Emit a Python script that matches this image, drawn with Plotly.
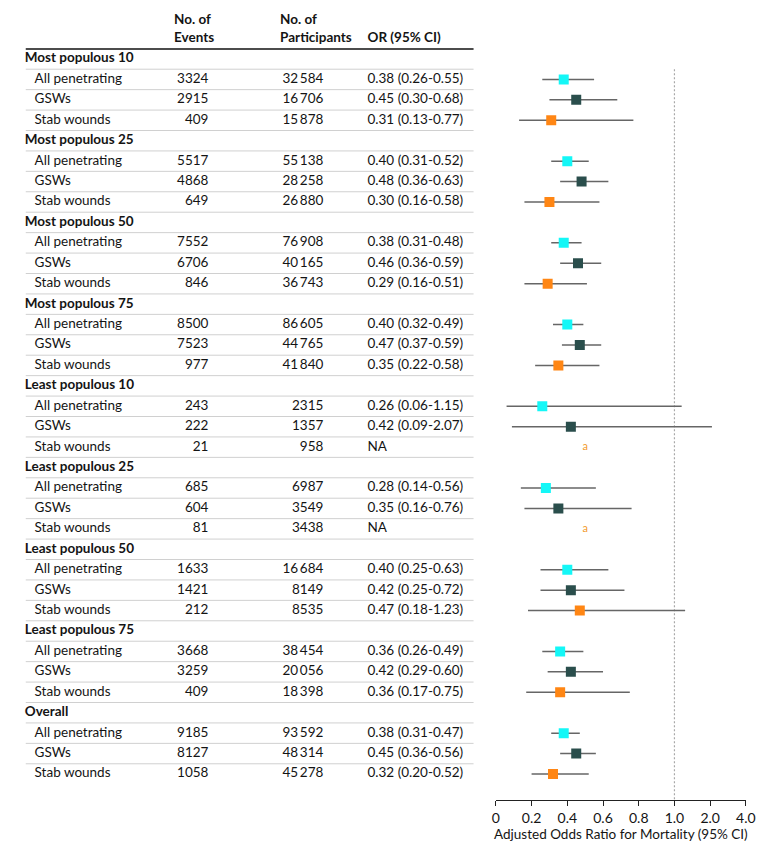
import math
import plotly.graph_objects as go

# ---------------- data ----------------
groups = ["Most populous 10", "Most populous 25", "Most populous 50", "Most populous 75",
          "Least populous 10", "Least populous 25", "Least populous 50", "Least populous 75",
          "Overall"]
subgroups = ["All penetrating", "GSWs", "Stab wounds"]

events = [[3324, 2915, 409], [5517, 4868, 649], [7552, 6706, 846], [8500, 7523, 977],
          [243, 222, 21], [685, 604, 81], [1633, 1421, 212], [3668, 3259, 409],
          [9185, 8127, 1058]]
participants = [[32584, 16706, 15878], [55138, 28258, 26880], [76908, 40165, 36743],
                [86605, 44765, 41840], [2315, 1357, 958], [6987, 3549, 3438],
                [16684, 8149, 8535], [38454, 20056, 18398], [93592, 48314, 45278]]
or_vals = [[0.38, 0.45, 0.31], [0.40, 0.48, 0.30], [0.38, 0.46, 0.29], [0.40, 0.47, 0.35],
           [0.26, 0.42, None], [0.28, 0.35, None], [0.40, 0.42, 0.47], [0.36, 0.42, 0.36],
           [0.38, 0.45, 0.32]]
ci_lo = [[0.26, 0.30, 0.13], [0.31, 0.36, 0.16], [0.31, 0.36, 0.16], [0.32, 0.37, 0.22],
         [0.06, 0.09, None], [0.14, 0.16, None], [0.25, 0.25, 0.18], [0.26, 0.29, 0.17],
         [0.31, 0.36, 0.20]]
ci_hi = [[0.55, 0.68, 0.77], [0.52, 0.63, 0.58], [0.48, 0.59, 0.51], [0.49, 0.59, 0.58],
         [1.15, 2.07, None], [0.56, 0.76, None], [0.63, 0.72, 1.23], [0.49, 0.60, 0.75],
         [0.47, 0.56, 0.52]]

tick_values = [0, 0.2, 0.4, 0.6, 0.8, 1.0, 2.0, 4.0]
tick_labels = ["0", "0.2", "0.4", "0.6", "0.8", "1.0", "2.0", "4.0"]
note_x = 0.5  # position of the "a" footnote mark for NA estimates

colors = ["#14F7F7", "#2A4E4C", "#FF8614"]
FONT = "Lato"
TXT = "#141414"
FS = 13.5


def tx(v):
    """Axis transform: linear up to 1, log2-compressed above 1."""
    return v if v <= 1 else 1 + 0.2 * math.log2(v)


def fmt_n(n):
    return f"{n:,}".replace(",", "\u2009") if n >= 10000 else str(n)


# ---------------- rows ----------------
grp_rows, sub_rows = [], []
row = 0
for g in range(len(groups)):
    grp_rows.append(row)
    row += 1
    sub_rows.append(list(range(row, row + 3)))
    row += 3
n_rows = row

fig = go.Figure()


def text_trace(xs, ys, texts, pos, **kw):
    fig.add_trace(go.Scatter(x=xs, y=ys, mode="text", text=texts, textposition=pos,
                             textfont=dict(family=FONT, size=FS, color=TXT),
                             xaxis="x2", yaxis="y", hoverinfo="skip", showlegend=False, **kw))


sub_y = [r for rs in sub_rows for r in rs]
text_trace([21] * len(groups), grp_rows, [f"<b>{g}</b>" for g in groups], "middle right")
text_trace([31] * len(sub_y), sub_y, [s for _ in groups for s in subgroups], "middle right")
text_trace([208] * len(sub_y), sub_y, [fmt_n(e) for es in events for e in es], "middle left")
text_trace([325] * len(sub_y), sub_y, [fmt_n(p) for ps in participants for p in ps], "middle left")
or_text = []
for g in range(len(groups)):
    for k in range(3):
        o = or_vals[g][k]
        or_text.append("NA" if o is None else f"{o:.2f} ({ci_lo[g][k]:.2f}-{ci_hi[g][k]:.2f})")
text_trace([370] * len(sub_y), sub_y, or_text, "middle right")
text_trace([173, 173, 281, 281, 370], [-1.9, -0.98, -1.9, -0.98, -0.98],
           ["<b>No. of</b>", "<b>Events</b>", "<b>No. of</b>", "<b>Participants</b>",
            "<b>OR (95% CI)</b>"], "middle right")

# forest markers
for k in range(3):
    xs, ys, ep, em = [], [], [], []
    for g in range(len(groups)):
        o = or_vals[g][k]
        if o is None:
            continue
        xs.append(tx(o))
        ys.append(sub_rows[g][k])
        ep.append(tx(ci_hi[g][k]) - tx(o))
        em.append(tx(o) - tx(ci_lo[g][k]))
    fig.add_trace(go.Scatter(x=xs, y=ys, mode="markers",
                             marker=dict(symbol="square", size=10, color=colors[k]),
                             error_x=dict(type="data", array=ep, arrayminus=em, width=0,
                                          color="#666666", thickness=1.5),
                             xaxis="x", yaxis="y", showlegend=False))

# NA footnote marks
na_y = [sub_rows[g][k] for g in range(len(groups)) for k in range(3) if or_vals[g][k] is None]
fig.add_trace(go.Scatter(x=[note_x] * len(na_y), y=na_y, mode="text", text=["a"] * len(na_y),
                         textfont=dict(family=FONT, size=11, color="#F29A2E"),
                         xaxis="x", yaxis="y", hoverinfo="skip", showlegend=False))

# ---------------- layout ----------------
OFFY = 6
W, H = 780, 850 - OFFY
ROW = 20.43
y_top = (OFFY - 57) / ROW
y_bot = (n_rows - 1) + 26 / ROW

shapes = []
for i in range(n_rows - 1):
    shapes.append(dict(type="line", xref="x2", yref="y", x0=22, x1=478, y0=i + 0.5, y1=i + 0.5,
                       line=dict(color="#d0d0d0", width=1)))
shapes.append(dict(type="line", xref="x2", yref="y", x0=22, x1=478, y0=-0.49, y1=-0.49,
                   line=dict(color="#111111", width=1.5)))
shapes.append(dict(type="line", xref="x", yref="y", x0=1, x1=1, y0=0.5, y1=y_bot,
                   line=dict(color="#a8a8a8", width=1.2, dash="2px,2px"), layer="below"))

fig.update_layout(
    width=W, height=H,
    margin=dict(l=0, r=0, t=0, b=52),
    paper_bgcolor="white", plot_bgcolor="white",
    font=dict(family=FONT, size=FS, color=TXT),
    shapes=shapes,
    xaxis=dict(domain=[492.7 / W, 747.3 / W], range=[0, tx(4.0)],
               tickvals=[tx(v) for v in tick_values], ticktext=tick_labels,
               showgrid=False, zeroline=False, showline=True, linecolor="#222", linewidth=1,
               ticks="outside", ticklen=5, tickcolor="#222",
               tickfont=dict(family=FONT, size=14, color=TXT),
               title=dict(text="Adjusted Odds Ratio for Mortality (95% CI)",
                          font=dict(family=FONT, size=13.5, color=TXT), standoff=3)),
    xaxis2=dict(domain=[0, 472 / W], range=[8, 480], visible=False),
    yaxis=dict(range=[y_bot, y_top], visible=False),
)

fig.write_html("out.html")
